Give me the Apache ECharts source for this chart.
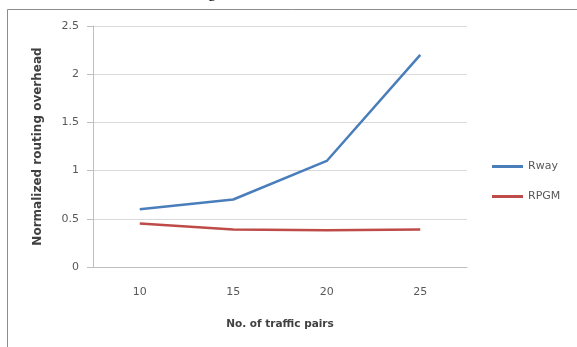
<!DOCTYPE html>
<html>
<head>
<meta charset="utf-8">
<script src="https://cdn.jsdelivr.net/npm/echarts@6/dist/echarts.min.js"></script>
<style>html,body{margin:0;padding:0;background:#fff}#c{width:577px;height:347px}</style>
</head>
<body>
<div id="c"></div>
<script>
const categories = ['10', '15', '20', '25'];
const rway = [0.6, 0.7, 1.1, 2.2];
const rpgm = [0.45, 0.39, 0.38, 0.39];
const seriesNames = ['Rway', 'RPGM'];
const xName = 'No. of traffic pairs';
const yName = 'Normalized routing overhead';

const font = '"DejaVu Sans", sans-serif';
const chart = echarts.init(document.getElementById('c'));
chart.setOption({
  animation: false,
  backgroundColor: '#fff',
  textStyle: { fontFamily: font },
  graphic: [
    { type: 'rect', shape: { x: 7.5, y: 9.5, width: 600, height: 360 }, style: { fill: 'none', stroke: '#8c8c8c', lineWidth: 1 }, silent: true },
    { type: 'text', left: 208, top: -15, style: { text: 'g', font: '16px "Liberation Serif", serif', fill: '#000' }, silent: true }
  ],
  grid: { left: 93, right: 110, top: 26, bottom: 80 },
  legend: {
    orient: 'vertical',
    left: 492,
    top: 161,
    padding: 0,
    itemWidth: 31,
    itemHeight: 3,
    itemGap: 19,
    itemTextGap: 3,
    icon: 'rect',
    textStyle: { fontFamily: font, fontSize: 11, color: '#595959' },
    data: seriesNames
  },
  xAxis: {
    type: 'category',
    data: categories,
    boundaryGap: true,
    axisLine: { lineStyle: { color: '#bfbfbf', width: 1 } },
    axisTick: { show: false },
    axisLabel: { color: '#595959', fontSize: 11, margin: 20, fontFamily: font },
    name: xName,
    nameLocation: 'middle',
    nameGap: 52,
    nameTextStyle: { fontWeight: 'bold', fontSize: 10.5, color: '#404040', fontFamily: font }
  },
  yAxis: {
    type: 'value',
    min: 0,
    max: 2.5,
    interval: 0.5,
    axisLine: { show: true, lineStyle: { color: '#bfbfbf', width: 1 } },
    axisTick: { show: true, length: 6, lineStyle: { color: '#bfbfbf' } },
    axisLabel: { color: '#595959', fontSize: 11, margin: 14, fontFamily: font },
    splitLine: { lineStyle: { color: '#d9d9d9', width: 1 } },
    name: yName,
    nameLocation: 'middle',
    nameGap: 49,
    nameRotate: 90,
    nameTextStyle: { fontWeight: 'bold', fontSize: 12, color: '#404040', fontFamily: font }
  },
  series: [
    { name: seriesNames[0], type: 'line', data: rway, showSymbol: false, symbol: 'none', lineStyle: { color: '#4a7ebb', width: 2.5 }, itemStyle: { color: '#4a7ebb' } },
    { name: seriesNames[1], type: 'line', data: rpgm, showSymbol: false, symbol: 'none', lineStyle: { color: '#be4b48', width: 2.5 }, itemStyle: { color: '#be4b48' } }
  ]
});
</script>
</body>
</html>
